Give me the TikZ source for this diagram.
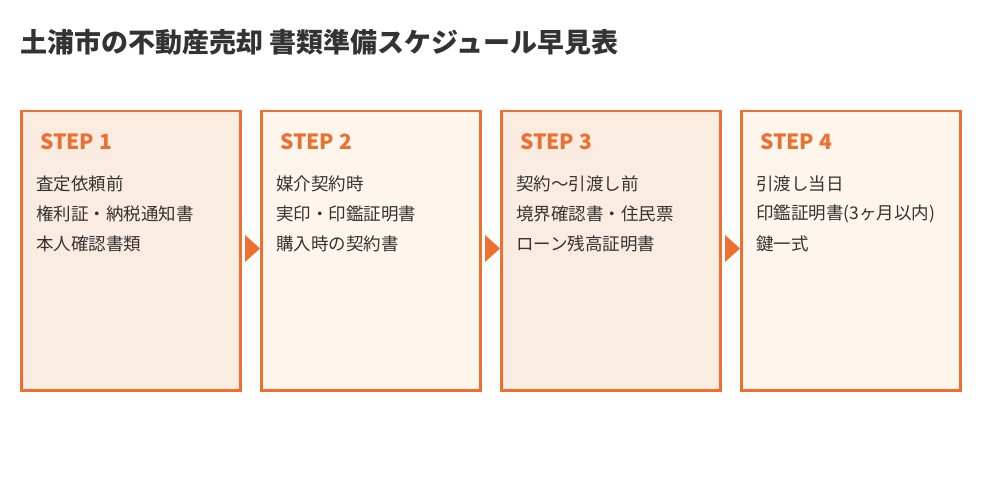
\documentclass[tikz,border=0pt]{standalone}
\usepackage{fontspec}
\setmainfont{Noto Sans CJK JP}
\begin{document}
\begin{tikzpicture}[x=1pt,y=-1pt,
  box/.style={draw=or,line width=2.5pt,minimum width=219pt,minimum height=279pt,anchor=north west,inner sep=0pt},
  steplbl/.style={anchor=west,text=or,font=\fontsize{21}{24}\selectfont\bfseries},
  itemlbl/.style={anchor=west,text=tx,font=\fontsize{17.5}{20}\selectfont}]
\definecolor{or}{HTML}{EE7030}
\definecolor{tx}{HTML}{333333}
\definecolor{fa}{HTML}{FBECE1}
\definecolor{fb}{HTML}{FEF6EC}
\useasboundingbox (0,0) rectangle (1000,500);
\node[anchor=west,text=tx,font=\fontsize{27}{31}\selectfont\bfseries,inner sep=0pt] (title) at (20,42) {土浦市の不動産売却 書類準備スケジュール早見表};
\foreach \i/\x/\f/\a/\b/\c in {1/20/fa/査定依頼前/権利証・納税通知書/本人確認書類,
  2/260/fb/媒介契約時/実印・印鑑証明書/購入時の契約書,
  3/500/fa/契約〜引渡し前/境界確認書・住民票/ローン残高証明書,
  4/740/fb/引渡し当日/印鑑証明書(3ヶ月以内)/鍵一式}{
  \node[box,fill=\f] (b\i) at (\x,110) {};
  \node[steplbl,inner sep=0pt] (s\i) at (\x+20,142) {STEP \i};
  \node[itemlbl,inner sep=0pt] (a\i) at (\x+16,184) {\a};
  \node[itemlbl,inner sep=0pt] (p\i) at (\x+16,214) {\b};
  \node[itemlbl,inner sep=0pt] (c\i) at (\x+16,244) {\c};
}
\foreach \x in {245,485,725}{
  \fill[or] (\x,235) -- (\x+15,248.5) -- (\x,262) -- cycle;
}
\end{tikzpicture}
\end{document}
